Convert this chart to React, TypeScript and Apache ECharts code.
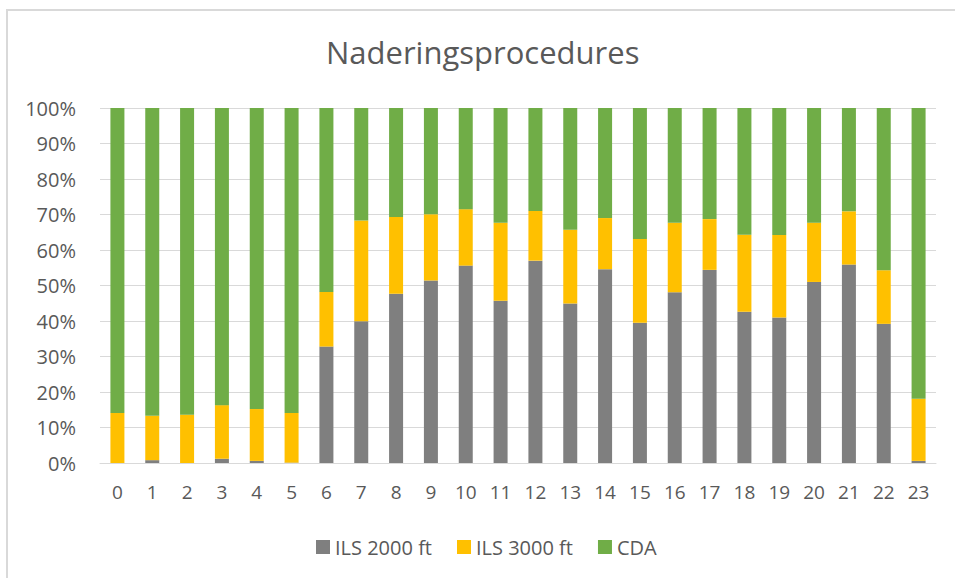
import React, { useEffect, useRef } from "react";
import * as echarts from "echarts";

const hours = ["0","1","2","3","4","5","6","7","8","9","10","11","12","13","14","15","16","17","18","19","20","21","22","23"];
const ils2000 = [0, 0.8, 0, 1.2, 0.6, 0.1, 32.8, 39.9, 47.7, 51.4, 55.6, 45.7, 57.0, 44.9, 54.6, 39.5, 48.1, 54.4, 42.6, 41.0, 51.0, 55.9, 39.2, 0.6];
const ils3000 = [14.1, 12.5, 13.6, 15.1, 14.6, 14.0, 15.4, 28.4, 21.6, 18.7, 15.9, 22.0, 14.0, 20.8, 14.4, 23.6, 19.6, 14.3, 21.7, 23.2, 16.7, 15.0, 15.1, 17.5];
const cda = [85.9, 86.7, 86.4, 83.7, 84.8, 85.9, 51.8, 31.7, 30.7, 29.9, 28.5, 32.3, 29.0, 34.3, 31.0, 36.9, 32.3, 31.3, 35.7, 35.8, 32.3, 29.1, 45.7, 81.9];
const yTicks = [0, 10, 20, 30, 40, 50, 60, 70, 80, 90, 100];

const FONT = "'Open Sans', sans-serif";
const TEXT = "#595959";

export default function App() {
  const ref = useRef<HTMLDivElement>(null);
  useEffect(() => {
    if (!ref.current) return;
    const chart = echarts.init(ref.current, undefined, { renderer: "svg" });
    const mk = (name: string, data: number[], color: string) => ({
      name,
      type: "bar",
      stack: "total",
      data,
      barWidth: 14,
      itemStyle: { color },
      emphasis: { disabled: true },
    });
    chart.setOption({
      animation: false,
      backgroundColor: "#ffffff",
      title: {
        text: "Naderingsprocedures",
        left: 326,
        top: 36,
        padding: 0,
        textStyle: { fontFamily: FONT, fontSize: 31, fontWeight: "normal", color: TEXT },
      },
      graphic: [
        {
          type: "rect",
          shape: { x: 7, y: 10, width: 1000, height: 1000 },
          style: { fill: "none", stroke: "#d9d9d9", lineWidth: 2 },
          silent: true,
        },
      ],
      legend: {
        top: 537,
        left: 316,
        padding: 0,
        itemWidth: 14,
        itemHeight: 14,
        itemGap: 25,
        icon: "rect",
        textStyle: { fontFamily: FONT, fontSize: 20, color: TEXT },
        data: ["ILS 2000 ft", "ILS 3000 ft", "CDA"],
      },
      grid: { left: 100, right: 19, top: 108, bottom: 115, containLabel: false },
      xAxis: {
        type: "category",
        data: hours,
        axisLine: { show: true, lineStyle: { color: "#d9d9d9", width: 1 } },
        axisTick: { show: false },
        axisLabel: { fontFamily: FONT, fontSize: 19, color: TEXT, margin: 19 },
      },
      yAxis: {
        type: "value",
        min: 0,
        max: 100,
        interval: 10,
        axisLine: { show: false },
        axisTick: { show: false },
        splitLine: { lineStyle: { color: "#d9d9d9", width: 1 } },
        axisLabel: {
          fontFamily: FONT,
          fontSize: 20,
          color: TEXT,
          margin: 24,
          formatter: (v: number) => (yTicks.includes(v) ? v + "%" : ""),
        },
      },
      series: [
        mk("ILS 2000 ft", ils2000, "#7f7f7f"),
        mk("ILS 3000 ft", ils3000, "#ffc000"),
        mk("CDA", cda, "#70ad47"),
      ],
    });
    return () => chart.dispose();
  }, []);
  return (
    <div
      ref={ref}
      style={{ position: "fixed", left: 0, top: 0, width: 955, height: 578, background: "#fff" }}
    />
  );
}
